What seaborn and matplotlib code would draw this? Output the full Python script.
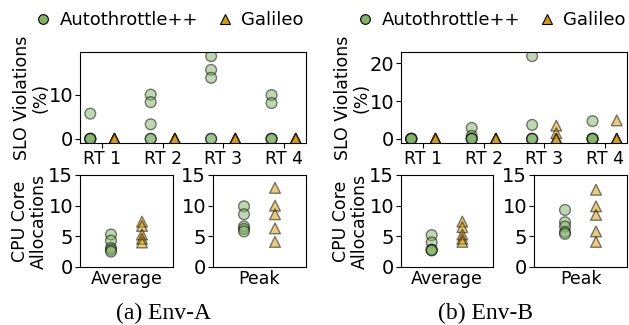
import matplotlib
matplotlib.use("Agg")
import matplotlib.pyplot as plt
from matplotlib.lines import Line2D
import seaborn as sns
import pandas as pd

# ---- data -------------------------------------------------------------
methods = ["Autothrottle++", "Galileo"]
request_types = ["RT 1", "RT 2", "RT 3", "RT 4"]
alloc_kinds = ["Average", "Peak"]

# SLO violations (%) per request type, five runs each
slo_a_auto = [[5.7, 0, 0, 0, 0], [10.0, 8.3, 3.3, 0, 0],
              [18.7, 15.6, 13.8, 0, 0], [9.9, 8.1, 0, 0, 0]]
slo_a_gal = [[0, 0, 0, 0, 0], [0, 0, 0, 0, 0],
             [0, 0, 0, 0, 0], [0, 0, 0, 0, 0]]
slo_b_auto = [[0, 0, 0, 0, 0], [2.9, 0.8, 0, 0, 0],
              [21.9, 3.7, 0, 0, 0], [4.7, 0, 0, 0, 0]]
slo_b_gal = [[0, 0, 0, 0, 0], [0, 0, 0, 0, 0],
             [3.5, 1.5, 0, 0, 0], [4.9, 0, 0, 0, 0]]

# CPU core allocations, five runs each
cpu_a_auto = {"Average": [5.3, 4.3, 3.1, 2.8, 2.5],
              "Peak": [9.9, 8.6, 6.6, 6.2, 5.8]}
cpu_a_gal = {"Average": [7.4, 6.7, 5.3, 4.6, 4.0],
             "Peak": [12.9, 10.0, 8.6, 6.3, 4.1]}
cpu_b_auto = {"Average": [5.2, 4.0, 2.8, 2.8, 2.7],
              "Peak": [9.3, 7.3, 6.6, 5.7, 5.4]}
cpu_b_gal = {"Average": [7.4, 6.5, 5.3, 4.6, 4.1],
             "Peak": [12.6, 9.9, 8.5, 5.8, 4.1]}

captions = ["(a) Env-A", "(b) Env-B"]

# ---- style ------------------------------------------------------------
colors = {"Autothrottle++": "#82b366", "Galileo": "#d79b00"}
markers = {"Autothrottle++": "o", "Galileo": "^"}
FS = 12.5
YFS = 14
plt.rcParams["font.family"] = ["DejaVu Sans"]
plt.rcParams["font.size"] = FS

W, H = 629, 325
fig = plt.figure(figsize=(W / 100, H / 100), dpi=100)


def add_axes_px(left, top, right, bottom):
    return fig.add_axes([left / W, 1 - bottom / H, (right - left) / W, (bottom - top) / H])


def slo_frame(auto, gal):
    rows = []
    for i, rt in enumerate(request_types):
        for m, series, off in ((methods[0], auto, -0.2), (methods[1], gal, 0.2)):
            for v in series[i]:
                rows.append({"x": i + off, "y": v, "method": m})
    return pd.DataFrame(rows)


def cpu_frame(auto, gal, kind):
    rows = []
    for m, series, pos in ((methods[0], auto, 0), (methods[1], gal, 1)):
        for v in series[kind]:
            rows.append({"x": pos, "y": v, "method": m})
    return pd.DataFrame(rows)


def scatter(ax, df):
    sns.scatterplot(data=df, x="x", y="y", hue="method", style="method",
                    palette=colors, markers=markers, hue_order=methods,
                    style_order=methods, s=60, alpha=0.5,
                    edgecolor="black", linewidth=1, legend=False, ax=ax)
    ax.set_xlabel("")
    ax.set_ylabel("")


def place_ylabel(ax, text, left_px, right_edge_px):
    ax.set_ylabel(text, fontsize=FS, linespacing=1.1)
    width = ax.get_position().width * W
    ax.yaxis.set_label_coords((right_edge_px - left_px) / width, 0.5)


panels = [
    (slo_a_auto, slo_a_gal, cpu_a_auto, cpu_a_gal, 80, 306, 173, 213),
    (slo_b_auto, slo_b_gal, cpu_b_auto, cpu_b_gal, 401, 627, 493, 534),
]

for k, (sa, sg, ca, cg, l, r, avg_r, peak_l) in enumerate(panels):
    # SLO violations per request type
    ax = add_axes_px(l, 52, r, 143)
    scatter(ax, slo_frame(sa, sg))
    ax.set_xticks(range(len(request_types)))
    ax.set_xticklabels(request_types)
    ax.yaxis.set_major_locator(matplotlib.ticker.MultipleLocator(10))
    ax.tick_params(axis="x", labelsize=FS, pad=1.5)
    ax.tick_params(axis="y", labelsize=YFS, pad=1.5)
    place_ylabel(ax, "SLO Violations\n(%)", l, l - 30)

    # CPU core allocations
    for j, (kind, al, ar) in enumerate(((alloc_kinds[0], l, avg_r),
                                        (alloc_kinds[1], peak_l, r))):
        bx = add_axes_px(al, 175, ar, 267)
        scatter(bx, cpu_frame(ca, cg, kind))
        bx.set_xlim(-1, 2)
        bx.set_ylim(0, 15)
        bx.set_yticks([0, 5, 10, 15])
        bx.set_xticks([0.5])
        bx.set_xticklabels([kind])
        bx.tick_params(axis="x", length=0, pad=2, labelsize=FS)
        bx.tick_params(axis="y", labelsize=YFS, pad=1.5)
        if j == 0:
            place_ylabel(bx, "CPU Core\nAllocations", al, al - 32)

    # legend above each environment
    handles = [Line2D([], [], linestyle="none", marker=markers[m], markersize=7,
                      markerfacecolor=colors[m], markeredgecolor="black",
                      markeredgewidth=0.8, label=m) for m in methods]
    cx = 168 if k == 0 else 490
    fig.legend(handles=handles, loc="center", bbox_to_anchor=(cx / W, 1 - 20 / H),
               ncol=2, frameon=False, fontsize=13, handletextpad=0.3,
               columnspacing=0.9, handlelength=1.2, borderaxespad=0)

    # caption
    fig.text((164 if k == 0 else 486) / W, 1 - 313 / H, captions[k],
             ha="center", va="center", fontsize=17,
             family=["Liberation Serif", "DejaVu Serif"])

fig.savefig("out.png", dpi=100)
